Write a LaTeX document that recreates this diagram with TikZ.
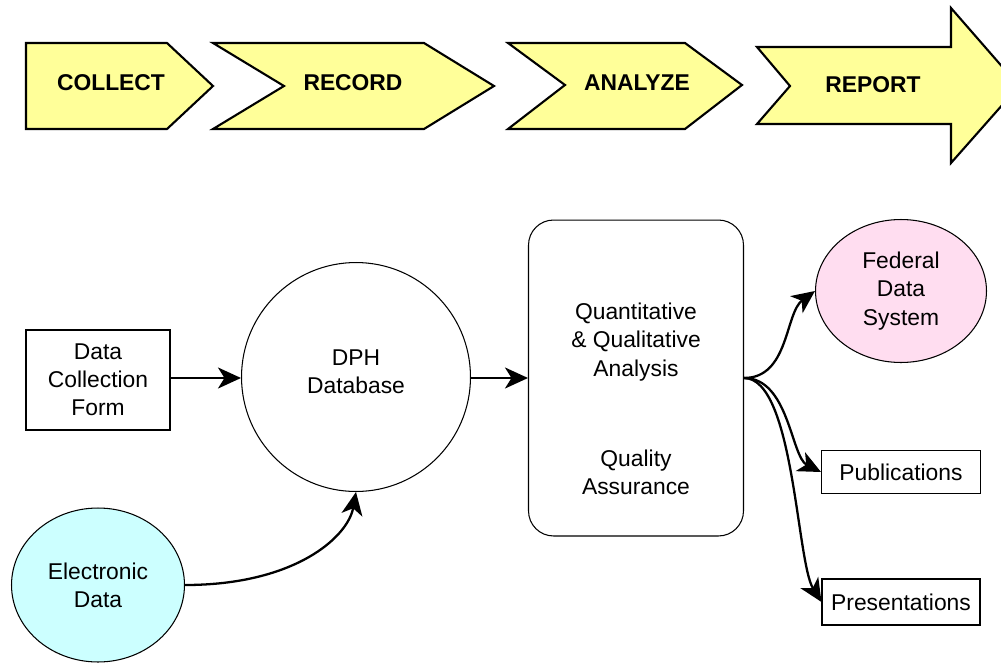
\documentclass[tikz,border=0pt]{standalone}
\usepackage{fontspec}
\setmainfont{Liberation Sans}
\definecolor{chevyellow}{RGB}{255,255,153}
\definecolor{edcyan}{RGB}{204,255,255}
\definecolor{fedpink}{RGB}{255,221,240}
\usetikzlibrary{arrows.meta, positioning, shapes}

\begin{document}
\begin{tikzpicture}[
      x=0.02cm, y=-0.02cm,
      chev/.style={draw, line width=1.2pt, line join=miter, fill=chevyellow},
      steplabel/.style={font=\fontsize{13}{16}\selectfont\bfseries},
      box/.style={draw, line width=0.6pt, align=center, inner sep=0pt, font=\fontsize{13}{16}\selectfont},
      txt/.style={align=center, inner sep=0pt, font=\fontsize{13}{16}\selectfont},
      arr/.style={-{Stealth[length=4.6mm, width=4.2mm, inset=1.3mm]}, line width=1.3pt}
    ]
      \useasboundingbox (0,0) rectangle (1001,663);
      \clip (0,0) rectangle (1001,663);

      % Stage 1
      \draw[chev] (26,43) -- (167,43) -- (213,86) -- (167,129) -- (26,129) -- cycle;
      \node[steplabel] (collect) at (111,83) {COLLECT};

      % Stage 2
      \draw[chev] (213,43) -- (424,43) -- (494,86) -- (424,129) -- (213,129) -- (284,86) -- cycle;
      \node[steplabel] (record) at (353,83) {RECORD};

      % Stage 3
      \draw[chev] (508,43) -- (685,43) -- (742,85) -- (685,129) -- (508,129) -- (565,85) -- cycle;
      \node[steplabel] (analyze) at (637,83) {ANALYZE};

      % Stage 4
      \draw[chev] (757,47) -- (951,47) -- (951,8) -- (1019,86) -- (951,163) -- (951,124) -- (757,124) -- (790,86) -- cycle;
      \node[steplabel] (report) at (873,85) {REPORT};

      % Sources
      \node[box, minimum width=2.88cm, minimum height=2cm] (form) at (98,380) {Data\\Collection\\Form};
      \node[box, ellipse, fill=edcyan, minimum width=3.46cm, minimum height=3.08cm] (elec) at (98,585) {Electronic\\Data};

      % Database
      \node[box, circle, minimum size=4.58cm] (dph) at (356,377) {};
      \node[txt] (dphtext) at (356,372) {DPH\\Database};

      % Analysis
      \node[box, rounded corners=0.5cm, minimum width=4.3cm, minimum height=6.32cm] (analysis) at (636,378) {};
      \node[txt] (quant) at (636,342) {Quantitative\\\& Qualitative\\Analysis};
      \node[txt] (qa) at (636,472) {Quality\\Assurance};

      % Outputs
      \node[box, ellipse, fill=fedpink, minimum width=3.42cm, minimum height=2.86cm] (fed) at (901,291) {};
      \node[txt] (fedtext) at (901,291) {Federal\\Data\\System};
      \node[box, minimum width=3.18cm, minimum height=0.86cm] (pub) at (901,472) {Publications};
      \node[box, minimum width=3.16cm, minimum height=0.92cm] (pres) at (901,602) {Presentations};

      % Arrows
      \draw[arr] (form.east |- 0,378) -- (dph.west |- 0,378);
      \draw[arr] (dph.east |- 0,378) -- (analysis.west |- 0,378);
      \draw[arr] (elec.east) .. controls +(110,0) and +(-8,45) .. (dph.south);
      \draw[arr] (analysis.east) .. controls +(45,0) and +(-30,22) .. (fed.west);
      \draw[arr] (analysis.east) .. controls +(45,0) and +(-30,-15) .. (pub.west);
      \draw[arr] (analysis.east) .. controls +(50,0) and +(-25,-40) .. (pres.west);
    \end{tikzpicture}
\end{document}
